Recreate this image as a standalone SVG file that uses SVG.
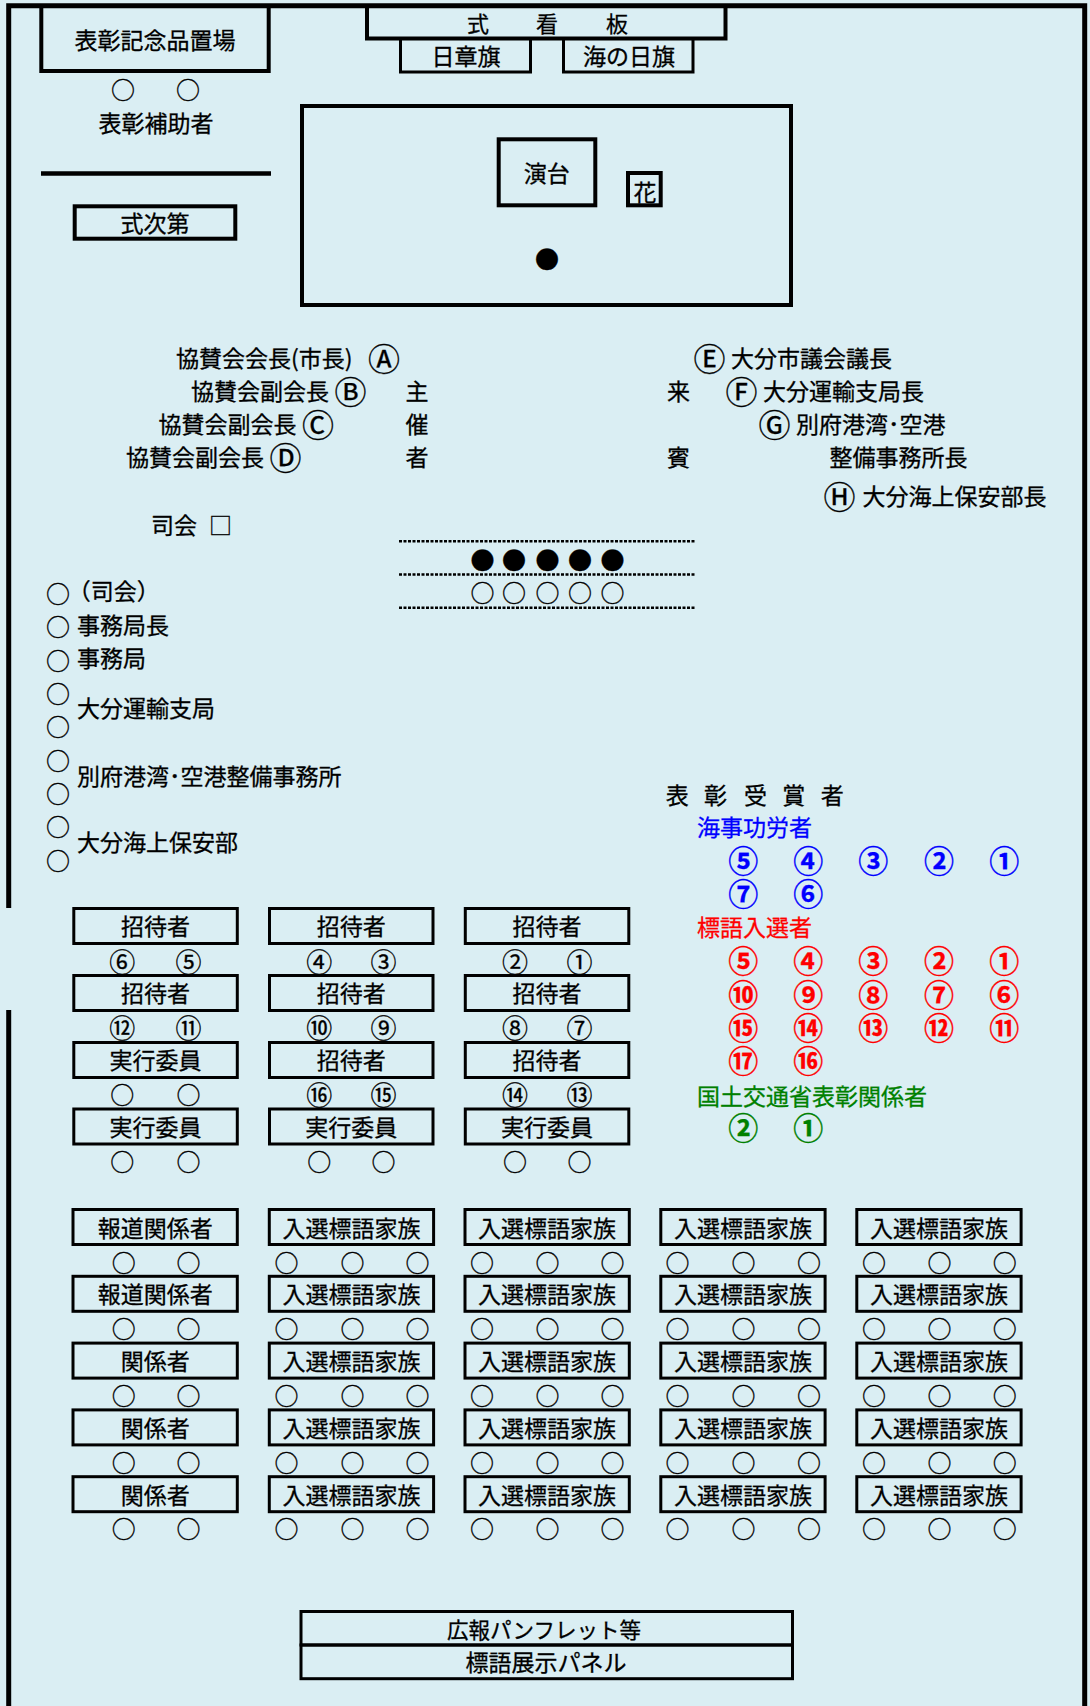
<svg xmlns="http://www.w3.org/2000/svg" width="1090" height="1706" viewBox="0 0 1090 1706">
<style>
.t{font-family:"Noto Sans CJK JP","Noto Sans CJK SC",sans-serif;font-size:23px;fill:#000;stroke:#000;stroke-width:0.3}
.m{text-anchor:middle}
.s{font-size:24px}
.n{font-size:26px}
.cl{font-size:32px}
.aw{font-size:30px;font-weight:bold}
.blue{fill:#0000FF;stroke:#0000FF}.red{fill:#FF0000;stroke:#FF0000}.green{fill:#008000;stroke:#008000}
.b4{fill:none;stroke:#000;stroke-width:4}
.b3{fill:none;stroke:#000;stroke-width:3}
.dash{fill:none;stroke:#000;stroke-width:2.4;stroke-dasharray:3 1.5}
</style>
<rect x="0" y="0" width="1090" height="1706" fill="#DAEEF3"/>
<g id="walls" fill="none" stroke="#000" stroke-width="5">
<path d="M8.7,908 V5.8 H1084.7 V1706"/>
<path d="M8.7,1010 V1706"/>
</g>
<g id="kinenhin">
<rect class="b4" x="41.3" y="6" width="227.4" height="65"/>
<text class="t m" x="155" y="49">表彰記念品置場</text>
<text class="t s m" x="123 188" y="99">○○</text>
<text class="t m" x="156" y="131.5">表彰補助者</text>
</g>
<line x1="41" y1="173.5" x2="271" y2="173.5" stroke="#000" stroke-width="4.5"/>
<g id="shikishidai">
<rect class="b4" x="74.7" y="206.3" width="160.6" height="32.4"/>
<text class="t m" x="155" y="231.5">式次第</text>
</g>
<g id="kanban">
<rect class="b4" x="367" y="6" width="358.5" height="32.5"/>
<text class="t m" style="font-size:22px" x="478 547 617" y="32">式看板</text>
</g>
<g id="nisshoki">
<rect class="b3" x="400.5" y="38.5" width="130" height="33.5"/>
<text class="t m" x="466" y="64.5">日章旗</text>
</g>
<g id="uminohi">
<rect class="b3" x="563.5" y="38.5" width="129.5" height="33.5"/>
<text class="t m" x="629" y="64.5">海の日旗</text>
</g>
<g id="stage">
<rect class="b4" x="302" y="106" width="489" height="199"/>
<rect class="b4" x="498.7" y="139.3" width="96.6" height="66"/>
<text class="t m" x="546.7" y="182">演台</text>
<rect class="b4" x="628" y="173" width="32.7" height="32.3"/>
<text class="t m" x="645" y="201">花</text>
<text class="t s m" x="547" y="268">●</text>
</g>
<g id="shusaisha">
<text class="t"><tspan x="176" y="367">協賛会会長(市長) </tspan><tspan class="cl" x="368" y="370.5">Ⓐ</tspan><tspan x="191" y="400">協賛会副会長 </tspan><tspan class="cl" x="334.4" y="403.5">Ⓑ</tspan><tspan x="158.5" y="433">協賛会副会長 </tspan><tspan class="cl" x="302" y="436.5">Ⓒ</tspan><tspan x="126" y="466">協賛会副会長 </tspan><tspan class="cl" x="269.4" y="469.5">Ⓓ</tspan></text>
<text class="t m"><tspan x="417" y="400">主</tspan><tspan x="417" y="433">催</tspan><tspan x="417" y="466">者</tspan></text>
</g>
<g id="raihin">
<text class="t m"><tspan x="678.5" y="400">来</tspan><tspan x="678.5" y="466">賓</tspan></text>
<text class="t"><tspan class="cl" x="693.4" y="370.5">Ⓔ </tspan><tspan x="731" y="367">大分市議会議長</tspan><tspan class="cl" x="725.4" y="403.5">Ⓕ </tspan><tspan x="763" y="400">大分運輸支局長</tspan><tspan class="cl" x="758.4" y="436.5">Ⓖ </tspan><tspan x="796" y="433">別府港湾･空港</tspan><tspan x="829.5" y="466">整備事務所長</tspan><tspan class="cl" x="823.4" y="509">Ⓗ </tspan><tspan x="862.5" y="505">大分海上保安部長</tspan></text>
</g>
<g id="shikai">
<text class="t" x="151" y="533.5">司会 <tspan x="209">□</tspan></text>
</g>
<g id="front-rows">
<line class="dash" x1="399" y1="541.3" x2="696" y2="541.3"/>
<line class="dash" x1="399" y1="574.5" x2="696" y2="574.5"/>
<line class="dash" x1="399" y1="607.8" x2="696" y2="607.8"/>
<text class="t s m"><tspan x="482.5 514 547.5 580 612.5" y="568.8">●●●●●</tspan><tspan x="482.5 514 547.5 580 612.5" y="602.1">○○○○○</tspan></text>
</g>
<g id="staff">
<text class="t s m" x="58 58 58 58 58 58 58 58 58" y="603.1 636.1 670.1 703.1 736.1 770.1 803.1 836.1 870.1">○○○○○○○○○</text>
<text class="t"><tspan x="67.7" y="600">（司会）</tspan><tspan x="77" y="634">事務局長</tspan><tspan x="77" y="667">事務局</tspan><tspan x="77" y="717">大分運輸支局</tspan><tspan x="77" y="785">別府港湾･空港整備事務所</tspan><tspan x="77" y="851">大分海上保安部</tspan></text>
</g>
<g id="awardees">
<text class="t"><tspan x="665.7 689 704 727 744 767 782.3 805 820.7" y="803.5">表 彰 受 賞 者</tspan><tspan class="blue" x="697" y="836">海事功労者</tspan><tspan class="red" x="697" y="936">標語入選者</tspan><tspan class="green" x="697" y="1105">国土交通省表彰関係者</tspan></text>
<text class="t aw blue m"><tspan x="743.3 808.3 873.3 939 1004.3" y="871.7">⑤④③②①</tspan><tspan x="743.3 808.3" y="905">⑦⑥</tspan></text>
<text class="t aw red m"><tspan x="743.3 808.3 873.3 939 1004.3" y="972.2">⑤④③②①</tspan><tspan x="743.3 808.3 873.3 939 1004.3" y="1005.7">⑩⑨⑧⑦⑥</tspan><tspan x="743.3 808.3 873.3 939 1004.3" y="1039.2">⑮⑭⑬⑫⑪</tspan><tspan x="743.3 808.3" y="1072.2">⑰⑯</tspan></text>
<text class="t aw green m" x="743.3 808.3" y="1139.2">②①</text>
</g>
<g id="guests">
<rect class="b3" x="73.8" y="908.5" width="163.5" height="35"/>
<rect class="b3" x="269.5" y="908.5" width="163.5" height="35"/>
<rect class="b3" x="465.3" y="908.5" width="163.5" height="35"/>
<text class="t m" x="155.5" y="935">招待者</text>
<text class="t m" x="351.3" y="935">招待者</text>
<text class="t m" x="547" y="935">招待者</text>
<text class="t n m" x="122.3 188.6 319.2 383.5 515 579.6" y="971.8">⑥⑤④③②①</text>
<rect class="b3" x="73.8" y="975.5" width="163.5" height="35"/>
<rect class="b3" x="269.5" y="975.5" width="163.5" height="35"/>
<rect class="b3" x="465.3" y="975.5" width="163.5" height="35"/>
<text class="t m" x="155.5" y="1002">招待者</text>
<text class="t m" x="351.3" y="1002">招待者</text>
<text class="t m" x="547" y="1002">招待者</text>
<text class="t n m" x="122.3 188.6 319.2 383.5 515 579.6" y="1038.1">⑫⑪⑩⑨⑧⑦</text>
<rect class="b3" x="73.8" y="1042.5" width="163.5" height="35"/>
<rect class="b3" x="269.5" y="1042.5" width="163.5" height="35"/>
<rect class="b3" x="465.3" y="1042.5" width="163.5" height="35"/>
<text class="t m" x="155.5" y="1069">実行委員</text>
<text class="t m" x="351.3" y="1069">招待者</text>
<text class="t m" x="547" y="1069">招待者</text>
<text class="t m"><tspan class="s" x="122.3 188.6" y="1104.1">○○</tspan><tspan class="n" x="319.2 383.5 515 579.6" y="1105.1">⑯⑮⑭⑬</tspan></text>
<rect class="b3" x="73.8" y="1109" width="163.5" height="35"/>
<rect class="b3" x="269.5" y="1109" width="163.5" height="35"/>
<rect class="b3" x="465.3" y="1109" width="163.5" height="35"/>
<text class="t m" x="155.5" y="1135.5">実行委員</text>
<text class="t m" x="351.3" y="1135.5">実行委員</text>
<text class="t m" x="547" y="1135.5">実行委員</text>
<text class="t s m" x="122.3 188.6 319.2 383.5 515 579.6" y="1170.8">○○○○○○</text>
</g>
<g id="families">
<g id="row1">
<rect class="b3" x="73" y="1209.5" width="164.3" height="35"/>
<rect class="b3" x="269.3" y="1209.5" width="164.3" height="35"/>
<rect class="b3" x="465" y="1209.5" width="164.3" height="35"/>
<rect class="b3" x="660.8" y="1209.5" width="164.3" height="35"/>
<rect class="b3" x="856.8" y="1209.5" width="164.3" height="35"/>
<text class="t m" x="155.2" y="1236.5">報道関係者</text>
<text class="t m" x="351.4" y="1236.5">入選標語家族</text>
<text class="t m" x="547.1" y="1236.5">入選標語家族</text>
<text class="t m" x="742.9" y="1236.5">入選標語家族</text>
<text class="t m" x="938.9" y="1236.5">入選標語家族</text>
<text class="t s m" x="123.7 188.6 286.5 352.5 417.5 482 547.5 612.6 677.5 743.5 809 874 939.6 1004.8" y="1271.6">○○○○○○○○○○○○○○</text>
</g>
<g id="row2">
<rect class="b3" x="73" y="1276.3" width="164.3" height="35"/>
<rect class="b3" x="269.3" y="1276.3" width="164.3" height="35"/>
<rect class="b3" x="465" y="1276.3" width="164.3" height="35"/>
<rect class="b3" x="660.8" y="1276.3" width="164.3" height="35"/>
<rect class="b3" x="856.8" y="1276.3" width="164.3" height="35"/>
<text class="t m" x="155.2" y="1303.3">報道関係者</text>
<text class="t m" x="351.4" y="1303.3">入選標語家族</text>
<text class="t m" x="547.1" y="1303.3">入選標語家族</text>
<text class="t m" x="742.9" y="1303.3">入選標語家族</text>
<text class="t m" x="938.9" y="1303.3">入選標語家族</text>
<text class="t s m" x="123.7 188.6 286.5 352.5 417.5 482 547.5 612.6 677.5 743.5 809 874 939.6 1004.8" y="1338.1">○○○○○○○○○○○○○○</text>
</g>
<g id="row3">
<rect class="b3" x="73" y="1343.1" width="164.3" height="35"/>
<rect class="b3" x="269.3" y="1343.1" width="164.3" height="35"/>
<rect class="b3" x="465" y="1343.1" width="164.3" height="35"/>
<rect class="b3" x="660.8" y="1343.1" width="164.3" height="35"/>
<rect class="b3" x="856.8" y="1343.1" width="164.3" height="35"/>
<text class="t m" x="155.2" y="1370.1">関係者</text>
<text class="t m" x="351.4" y="1370.1">入選標語家族</text>
<text class="t m" x="547.1" y="1370.1">入選標語家族</text>
<text class="t m" x="742.9" y="1370.1">入選標語家族</text>
<text class="t m" x="938.9" y="1370.1">入選標語家族</text>
<text class="t s m" x="123.7 188.6 286.5 352.5 417.5 482 547.5 612.6 677.5 743.5 809 874 939.6 1004.8" y="1405.1">○○○○○○○○○○○○○○</text>
</g>
<g id="row4">
<rect class="b3" x="73" y="1409.9" width="164.3" height="35"/>
<rect class="b3" x="269.3" y="1409.9" width="164.3" height="35"/>
<rect class="b3" x="465" y="1409.9" width="164.3" height="35"/>
<rect class="b3" x="660.8" y="1409.9" width="164.3" height="35"/>
<rect class="b3" x="856.8" y="1409.9" width="164.3" height="35"/>
<text class="t m" x="155.2" y="1436.9">関係者</text>
<text class="t m" x="351.4" y="1436.9">入選標語家族</text>
<text class="t m" x="547.1" y="1436.9">入選標語家族</text>
<text class="t m" x="742.9" y="1436.9">入選標語家族</text>
<text class="t m" x="938.9" y="1436.9">入選標語家族</text>
<text class="t s m" x="123.7 188.6 286.5 352.5 417.5 482 547.5 612.6 677.5 743.5 809 874 939.6 1004.8" y="1471.6">○○○○○○○○○○○○○○</text>
</g>
<g id="row5">
<rect class="b3" x="73" y="1476.7" width="164.3" height="35"/>
<rect class="b3" x="269.3" y="1476.7" width="164.3" height="35"/>
<rect class="b3" x="465" y="1476.7" width="164.3" height="35"/>
<rect class="b3" x="660.8" y="1476.7" width="164.3" height="35"/>
<rect class="b3" x="856.8" y="1476.7" width="164.3" height="35"/>
<text class="t m" x="155.2" y="1503.7">関係者</text>
<text class="t m" x="351.4" y="1503.7">入選標語家族</text>
<text class="t m" x="547.1" y="1503.7">入選標語家族</text>
<text class="t m" x="742.9" y="1503.7">入選標語家族</text>
<text class="t m" x="938.9" y="1503.7">入選標語家族</text>
<text class="t s m" x="123.7 188.6 286.5 352.5 417.5 482 547.5 612.6 677.5 743.5 809 874 939.6 1004.8" y="1538.1">○○○○○○○○○○○○○○</text>
</g>
</g>
<g id="panels">
<rect class="b3" x="301" y="1611.5" width="491.5" height="33.5"/>
<rect class="b3" x="301" y="1645" width="491.5" height="33.7"/>
<text class="t m" style="font-size:21.5px" x="544" y="1637.5">広報パンフレット等</text>
<text class="t m" x="546" y="1670.5">標語展示パネル</text>
</g>
</svg>
